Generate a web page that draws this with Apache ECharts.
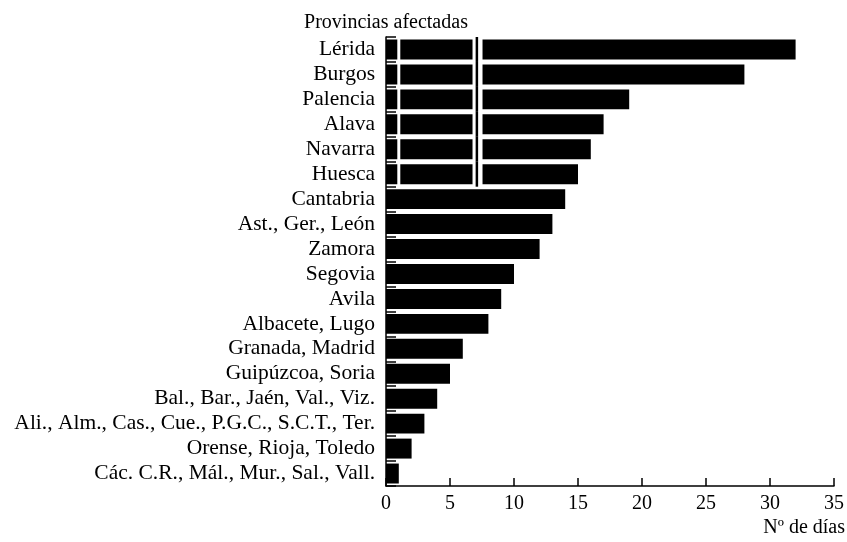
<!DOCTYPE html>
<html>
<head>
<meta charset="utf-8">
<script src="https://cdn.jsdelivr.net/npm/echarts@6/dist/echarts.min.js"></script>
<style>
html, body { margin: 0; padding: 0; background: #fff; }
#main { width: 847px; height: 542px; }
</style>
</head>
<body>
<div id="main"></div>
<script>
// datos
var provincias = [
  'Lérida', 'Burgos', 'Palencia', 'Alava', 'Navarra', 'Huesca', 'Cantabria',
  'Ast., Ger., León', 'Zamora', 'Segovia', 'Avila', 'Albacete, Lugo',
  'Granada, Madrid', 'Guipúzcoa, Soria', 'Bal., Bar., Jaén, Val., Viz.',
  'Ali., Alm., Cas., Cue., P.G.C., S.C.T., Ter.', 'Orense, Rioja, Toledo',
  'Các. C.R., Mál., Mur., Sal., Vall.'
];
var dias = [32, 28, 19, 17, 16, 15, 14, 13, 12, 10, 9, 8, 6, 5, 4, 3, 2, 1];

// filas con corte de escala y posición de las marcas
var filasCorte = ['Lérida', 'Burgos', 'Palencia', 'Alava', 'Navarra', 'Huesca'];
var corteFino = 1.0;
var corteHueco = 7.15;
var corteLinea = 7.1;

var fuente = 'Liberation Serif';
var myChart = echarts.init(document.getElementById('main'));

function puntos(v) {
  return filasCorte.map(function (p) { return [v, p]; });
}

var option = {
  animation: false,
  backgroundColor: '#fff',
  grid: { left: 386, right: 11, top: 37, bottom: 56 },
  graphic: [
    { type: 'text', x: 386, y: 23,
      style: { text: 'Provincias afectadas', font: '20px "' + fuente + '"', fill: '#000',
        textAlign: 'center', textVerticalAlign: 'middle' } },
    { type: 'text', x: 845, y: 528,
      style: { text: 'Nº de días', font: '20px "' + fuente + '"', fill: '#000',
        textAlign: 'right', textVerticalAlign: 'middle' } }
  ],
  xAxis: {
    type: 'value',
    min: 0,
    max: 35,
    interval: 5,
    splitLine: { show: false },
    axisLine: { show: true, lineStyle: { color: '#000', width: 1.5 } },
    axisTick: { show: true, inside: true, length: 8, lineStyle: { color: '#000', width: 1.5 } },
    axisLabel: { color: '#000', fontFamily: fuente, fontSize: 20, margin: 8 }
  },
  yAxis: {
    type: 'category',
    inverse: true,
    data: provincias,
    axisLine: { show: true, lineStyle: { color: '#000', width: 1.5 } },
    axisTick: { show: true, inside: true, length: 10, interval: 0, lineStyle: { color: '#000', width: 1.5 } },
    axisLabel: { color: '#000', fontFamily: fuente, fontSize: 21.5, margin: 11, interval: 0, padding: [10, 0, 0, 0] }
  },
  series: [
    {
      type: 'bar',
      data: dias,
      barWidth: '80%',
      itemStyle: { color: '#000' },
      silent: true
    },
    {
      type: 'scatter',
      data: puntos(corteFino),
      symbol: 'rect',
      symbolSize: [3, 22],
      itemStyle: { color: '#fff', opacity: 1 },
      silent: true,
      z: 3
    },
    {
      type: 'scatter',
      data: puntos(corteHueco),
      symbol: 'rect',
      symbolSize: [10, 22],
      itemStyle: { color: '#fff', opacity: 1 },
      silent: true,
      z: 3
    },
    {
      type: 'scatter',
      data: puntos(corteLinea),
      symbol: 'rect',
      symbolSize: [2.5, 25],
      itemStyle: { color: '#000', opacity: 1 },
      silent: true,
      z: 4
    }
  ]
};
myChart.setOption(option);
</script>
</body>
</html>
